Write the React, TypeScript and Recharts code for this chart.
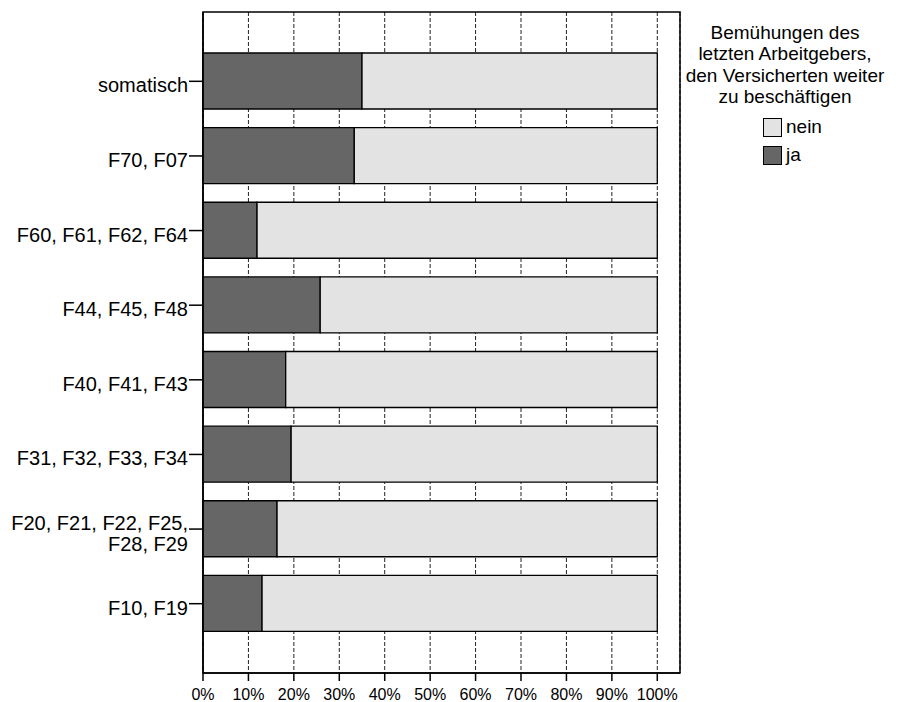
import React from 'react';
import { BarChart, Bar, XAxis, YAxis, CartesianGrid, usePlotArea } from 'recharts';

const categories = [
  'somatisch',
  'F70, F07',
  'F60, F61, F62, F64',
  'F44, F45, F48',
  'F40, F41, F43',
  'F31, F32, F33, F34',
  'F20, F21, F22, F25,\nF28, F29',
  'F10, F19',
];
const jaValues = [35.0, 33.3, 11.9, 25.8, 18.2, 19.4, 16.3, 13.0];
const neinValues = [65.0, 66.7, 88.1, 74.2, 81.8, 80.6, 83.7, 87.0];
const xTicks = [0, 10, 20, 30, 40, 50, 60, 70, 80, 90, 100];
const legendTitle = ['Bemühungen des', 'letzten Arbeitgebers,', 'den Versicherten weiter', 'zu beschäftigen'];
const legendItems = [
  { label: 'nein', color: '#e3e3e3' },
  { label: 'ja', color: '#666666' },
];

const data = categories.map((name, i) => ({ name, ja: jaValues[i], nein: neinValues[i] }));

const FONT = '"Liberation Sans", Arial, Helvetica, sans-serif';

const YTick = (props: any) => {
  const { x, y, payload } = props;
  const lines = String(payload.value).split('\n');
  const lh = 21;
  const first = y + 11 - (lh / 2) * (lines.length - 1);
  return (
    <text x={x} y={first} textAnchor="end" fontSize={20} fontFamily={FONT} fill="#000">
      {lines.map((l, i) => (
        <tspan key={i} x={x} y={first + i * lh}>{l}</tspan>
      ))}
    </text>
  );
};

const Frame = () => {
  const area = usePlotArea();
  if (!area) return null;
  return (
    <rect x={area.x} y={area.y} width={area.width} height={area.height} fill="none" stroke="#000" strokeWidth={1.5} />
  );
};

const LegendBox = () => (
  <div style={{ position: 'absolute', left: 680, top: 0, width: 210, height: 180, fontFamily: FONT, color: '#000' }}>
    <div style={{ position: 'absolute', top: 22, left: 0, width: 210, textAlign: 'center', fontSize: 19, lineHeight: '21.3px' }}>
      {legendTitle.map((t, i) => (<div key={i} style={{ whiteSpace: 'nowrap' }}>{t}</div>))}
    </div>
    {legendItems.map((it, i) => (
      <div key={it.label} style={{ position: 'absolute', left: 83, top: 118 + i * 28, height: 19 }}>
        <div style={{ position: 'absolute', left: 0, top: 0, width: 17, height: 17, background: it.color, border: '1px solid #000' }} />
        <div style={{ position: 'absolute', left: 23, top: -2, fontSize: 19, lineHeight: '21px', whiteSpace: 'nowrap' }}>{it.label}</div>
      </div>
    ))}
  </div>
);

export default function App() {
  return (
    <div style={{ position: 'absolute', left: 0, top: 0, width: 900, height: 702, background: '#fff' }}>
      <BarChart
        width={900}
        height={702}
        data={data}
        layout="vertical"
        margin={{ top: 12, right: 220, bottom: 0, left: 0 }}
        barSize={56}
      >
        <CartesianGrid horizontal={false} vertical stroke="#222" strokeDasharray="4 2" strokeWidth={1} />
        <XAxis
          type="number"
          domain={[0, 105]}
          ticks={xTicks}
          tickFormatter={(v: number) => `${v}%`}
          height={29}
          tickSize={8}
          tickMargin={8}
          axisLine={{ stroke: '#000', strokeWidth: 1.5 }}
          tickLine={{ stroke: '#000', strokeWidth: 1.5 }}
          tick={{ fill: '#000', fontSize: 16, fontFamily: FONT }}
          interval={0}
        />
        <YAxis
          type="category"
          dataKey="name"
          width={203}
          padding={{ top: 32, bottom: 32 }}
          tickSize={14}
          tickMargin={1}
          axisLine={{ stroke: '#000', strokeWidth: 1.5 }}
          tickLine={{ stroke: '#000', strokeWidth: 1.5 }}
          tick={<YTick />}
          interval={0}
        />
        <Bar dataKey="ja" stackId="a" fill="#666666" stroke="#000" strokeWidth={1.3} isAnimationActive={false} />
        <Bar dataKey="nein" stackId="a" fill="#e3e3e3" stroke="#000" strokeWidth={1.3} isAnimationActive={false} />
        <Frame />
      </BarChart>
      <LegendBox />
    </div>
  );
}
